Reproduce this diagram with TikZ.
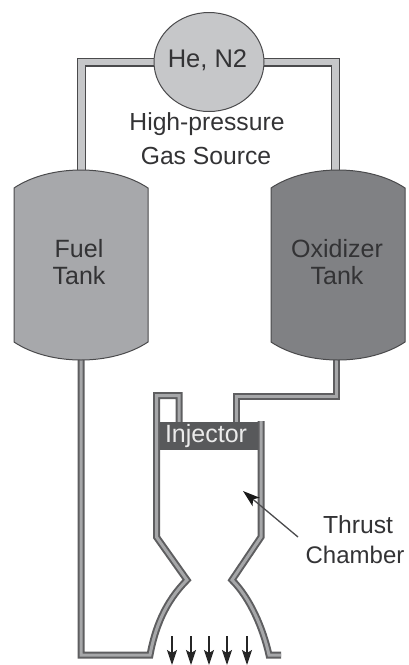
\documentclass[tikz,border=0pt]{standalone}
\usepackage{fontspec}
\setmainfont{Liberation Sans}
\usetikzlibrary{arrows.meta,shapes.geometric}
\definecolor{edgegrey}{HTML}{4A4A4C}
\definecolor{txt}{HTML}{333335}
\definecolor{pipelight}{HTML}{C6C7C9}
\definecolor{pipedark}{HTML}{5E5E60}
\definecolor{pipemid}{HTML}{A6A7A9}
\definecolor{fuelgrey}{HTML}{A7A8AB}
\definecolor{oxgrey}{HTML}{808184}
\definecolor{injgrey}{HTML}{58595B}
\tikzset{
  x=1pt,y=-1pt,
  pipeupper/.style={draw=edgegrey,line width=9pt,miter limit=10,
    postaction={draw=pipelight,line width=6.4pt}},
  pipelower/.style={draw=pipedark,line width=7pt,miter limit=10,line join=miter,
    postaction={draw=pipemid,line width=3pt}},
  tankbox/.style={draw=edgegrey,line width=1pt},
  lbl/.style={text=txt,font=\fontsize{24.7}{30}\selectfont,align=center,inner sep=0pt},
  flow/.style={draw=black!85,line width=1.4pt,-{Stealth[length=15pt,width=10pt,inset=3pt,fill=black!85]}},
  pointer/.style={draw=edgegrey,line width=1.3pt,-{Stealth[length=17pt,width=11pt,inset=4pt,color=black!90,fill=black!90]}}
}
\begin{document}
\begin{tikzpicture}
\useasboundingbox (0,0) rectangle (409,665);
% ports
\coordinate (fueltop) at (81.5,172);
\coordinate (oxtop) at (335.5,172);
\coordinate (fuelbot) at (81,358);
\coordinate (oxbot) at (336,358);
\coordinate (srcL) at (160,62);
\coordinate (srcR) at (258,62);
\coordinate (cornL) at (81.5,62);
\coordinate (cornR) at (335.5,62);
\coordinate (fuelcorner) at (81,655);
\coordinate (nozLend) at (150,655);
\coordinate (nozLthroat) at (187,580);
\coordinate (shL) at (156.5,537);
\coordinate (shR) at (261,537);
\coordinate (nozRthroat) at (232,580);
\coordinate (nozRfoot) at (269,655);
\coordinate (nozRend) at (281,655);
\coordinate (loopTL) at (156.5,395.5);
\coordinate (loopTR) at (179,395.5);
\coordinate (loopB) at (179,424);
\coordinate (oxcorner) at (336,396);
\coordinate (oxinj) at (236.5,396);
\coordinate (oxinjB) at (236.5,424);
\coordinate (wallRtop) at (261,421);
% gas lines
\draw[pipeupper] (srcL) -- (cornL) -- (fueltop);
\draw[pipeupper] (srcR) -- (cornR) -- (oxtop);
% feed lines
\draw[pipelower] (fuelbot) -- (fuelcorner) -- (nozLend)
   .. controls (155,628) and (165,602) .. (nozLthroat) -- (shL) -- (loopTL) -- (loopTR) -- (loopB);
\draw[pipelower] (oxbot) -- (oxcorner) -- (oxinj) -- (oxinjB);
\draw[pipelower] (wallRtop) -- (shR) -- (nozRthroat)
   .. controls (250,598) and (263,628) .. (nozRfoot) -- (nozRend);
% source
\node[draw=edgegrey,line width=1pt,fill=pipelight,ellipse,minimum width=110pt,minimum height=99pt,inner sep=0pt] (src) at (209,62) {};
\node[lbl,font=\fontsize{25.5}{30}\selectfont] (he) at (207.5,60) {He, N2};
\node[lbl] (hp) at (207,124) {High-pressure};
\node[lbl] (gs) at (206,156) {Gas Source};
% tanks
\path[tankbox,fill=fuelgrey] (14,188) .. controls (50,164) and (112,164) .. (148,188) -- (148,342)
  .. controls (112,366) and (50,366) .. (14,342) -- cycle;
\path[tankbox,fill=oxgrey] (271,188) .. controls (307,164) and (369,164) .. (405,188) -- (405,342)
  .. controls (369,366) and (307,366) .. (271,342) -- cycle;
\node[lbl,font=\fontsize{25}{27.5}\selectfont] (fuel) at (79,262) {Fuel\\Tank};
\node[lbl,font=\fontsize{25}{27.5}\selectfont] (ox) at (337,262) {Oxidizer\\Tank};
% injector
\node[fill=injgrey,minimum width=98pt,minimum height=28pt,inner sep=0pt] (inj) at (209,436) {};
\node[inner sep=0pt,text=white!92!black,font=\fontsize{25}{30}\selectfont] (injtxt) at (206,436) {Injector};
% thrust chamber
\node[lbl] (th) at (358,525) {Thrust};
\node[lbl,font=\fontsize{24}{30}\selectfont] (ch) at (355,555) {Chamber};
\coordinate (ptrS) at (298,537);
\coordinate (ptrE) at (243,491);
\draw[pointer] (ptrS) -- (ptrE);
% exhaust
\foreach \n/\x in {a/172,b/191,c/209,d/227,e/247}{
  \coordinate (f\n S) at (\x,636);
  \coordinate (f\n E) at (\x,665);
  \draw[flow] (f\n S) -- (f\n E);
}
\end{tikzpicture}
\end{document}
